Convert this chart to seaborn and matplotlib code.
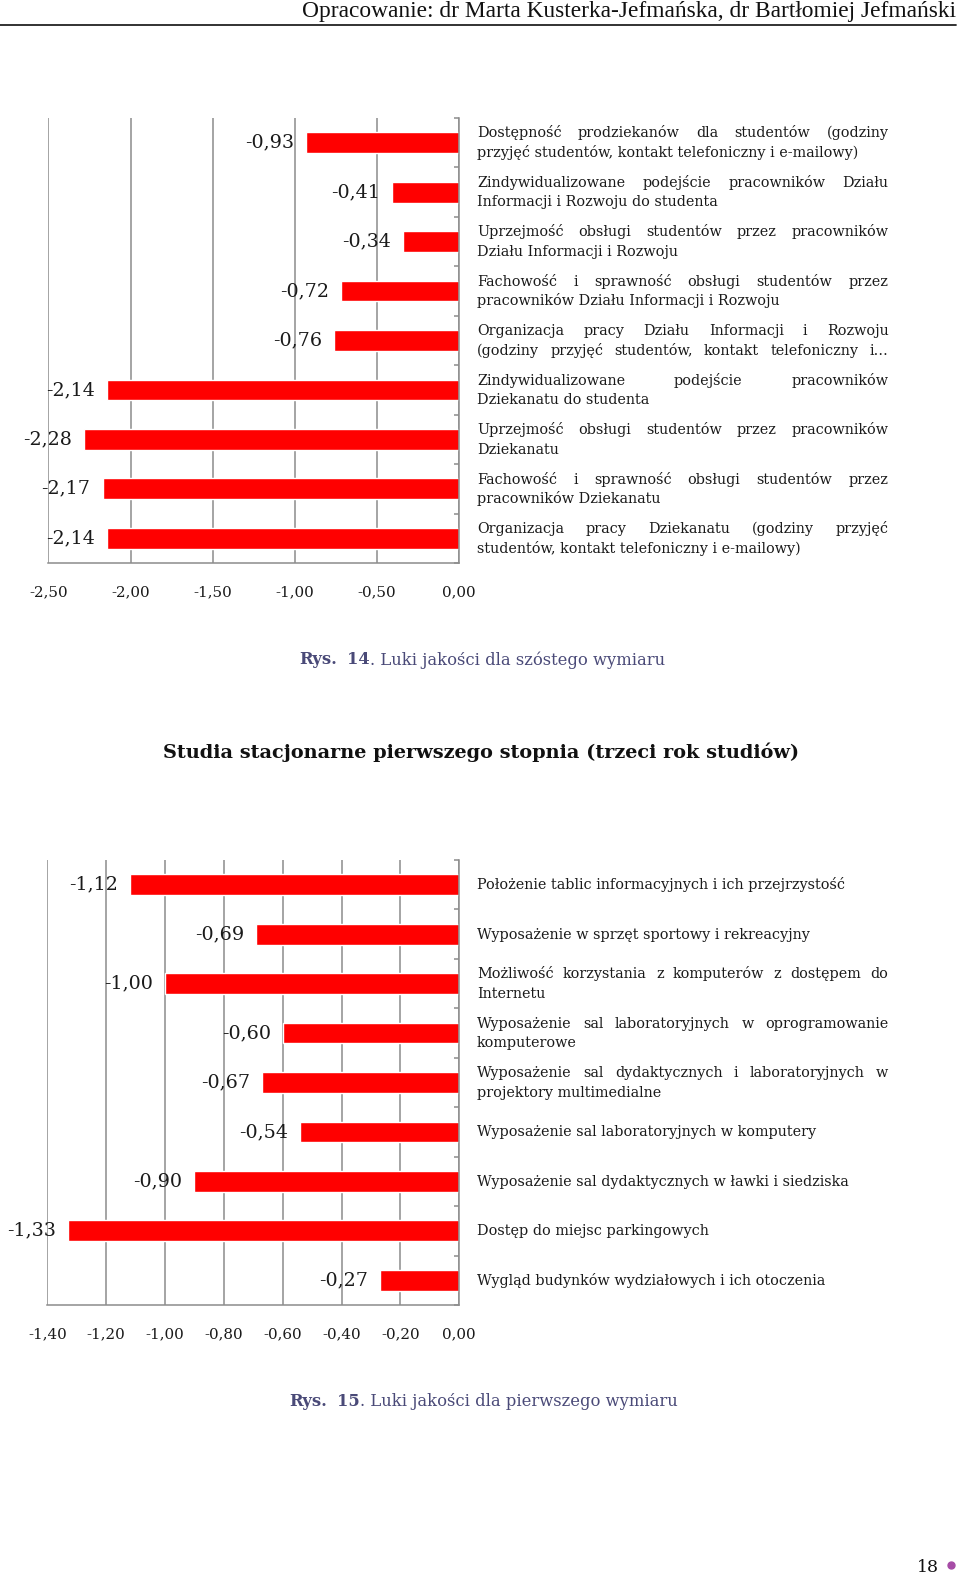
"""Luki jakości - two horizontal gap bar charts on one report page."""

import numpy as np
import pandas as pd
import matplotlib
import matplotlib.pyplot as plt
from matplotlib.lines import Line2D
import seaborn as sns

matplotlib.use("Agg")

# ── data ───────────────────────────────────────────────────────────────────
labels_14 = [
    "Dostępność prodziekanów dla studentów (godziny\nprzyjęć studentów, kontakt telefoniczny i e-mailowy)",
    "Zindywidualizowane podejście pracowników Działu\nInformacji i Rozwoju do studenta",
    "Uprzejmość obsługi studentów przez pracowników\nDziału Informacji i Rozwoju",
    "Fachowość i sprawność obsługi studentów przez\npracowników Działu Informacji i Rozwoju",
    "Organizacja pracy Działu Informacji i Rozwoju\n(godziny przyjęć studentów, kontakt telefoniczny i…",
    "Zindywidualizowane podejście pracowników\nDziekanatu do studenta",
    "Uprzejmość obsługi studentów przez pracowników\nDziekanatu",
    "Fachowość i sprawność obsługi studentów przez\npracowników Dziekanatu",
    "Organizacja pracy Dziekanatu (godziny przyjęć\nstudentów, kontakt telefoniczny i e-mailowy)",
]
values_14 = [-0.93, -0.41, -0.34, -0.72, -0.76, -2.14, -2.28, -2.17, -2.14]
ticks_14 = [-2.5, -2.0, -1.5, -1.0, -0.5, 0.0]

labels_15 = [
    "Położenie tablic informacyjnych i ich przejrzystość",
    "Wyposażenie w sprzęt sportowy i rekreacyjny",
    "Możliwość korzystania z komputerów z dostępem do\nInternetu",
    "Wyposażenie sal laboratoryjnych w oprogramowanie\nkomputerowe",
    "Wyposażenie sal dydaktycznych i laboratoryjnych w\nprojektory multimedialne",
    "Wyposażenie sal laboratoryjnych w komputery",
    "Wyposażenie sal dydaktycznych w ławki i siedziska",
    "Dostęp do miejsc parkingowych",
    "Wygląd budynków wydziałowych i ich otoczenia",
]
values_15 = [-1.12, -0.69, -1.00, -0.60, -0.67, -0.54, -0.90, -1.33, -0.27]
ticks_15 = [-1.4, -1.2, -1.0, -0.8, -0.6, -0.4, -0.2, 0.0]

# ── page geometry (pixels) ─────────────────────────────────────────────────
W, H = 960, 1578
SERIF = "DejaVu Serif"
GRID = "#8c8c8c"
BAR = "#ff0000"
CAPTION = "#4a4a78"

sns.set_style("white")
plt.rcParams["font.family"] = [SERIF, "DejaVu Sans"]

fig = plt.figure(figsize=(W / 100, H / 100), dpi=100)
renderer = fig.canvas.get_renderer()


def fx(x):
    return x / W


def fy(y):
    return 1 - y / H


def text_width(s, **kw):
    t = fig.text(0, 0, s, **kw)
    w = t.get_window_extent(renderer).width
    t.remove()
    return w


def paragraph(text, x0, x1, yc, size=10.4, gap=19.5):
    """Draw label lines; all but the last are justified (like the report)."""
    lines = text.split("\n")
    n = len(lines)
    kw = dict(fontsize=size, family=SERIF, color="#1a1a1a")
    for k, line in enumerate(lines):
        base = yc + (k - (n - 1) / 2) * gap + 4.5
        if (k < n - 1 or line.endswith("…")) and " " in line:
            words = line.split()
            widths = [text_width(w, **kw) for w in words]
            space = (x1 - x0 - sum(widths)) / (len(words) - 1)
            x = x0
            for w, ww in zip(words, widths):
                fig.text(fx(x), fy(base), w, ha="left", va="baseline", **kw)
                x += ww + space
        else:
            fig.text(fx(x0), fy(base), line, ha="left", va="baseline", **kw)


def runs(parts, x0, yc, size, color):
    """Draw consecutive text runs [(text, weight), ...] on one line."""
    x = x0
    for s, weight in parts:
        kw = dict(fontsize=size, family=SERIF, color=color, fontweight=weight)
        fig.text(fx(x), fy(yc), s, ha="left", va="center", **kw)
        x += text_width(s, **kw)


def gap_chart(labels, values, ticks, box):
    left, top, right, bottom = box
    ax = fig.add_axes([fx(left), fy(bottom), fx(right - left), (bottom - top) / H])
    df = pd.DataFrame({"kryterium": labels, "luka": values})
    sns.barplot(data=df, x="luka", y="kryterium", orient="h", color=BAR,
                saturation=1, width=0.42, ax=ax)
    n = len(labels)
    ax.set_xlim(ticks[0], 0)
    ax.set_ylim(n - 0.5, -0.5)
    ax.set_xticks(ticks)
    ax.set_xticklabels([f"{t:.2f}".replace(".", ",") for t in ticks],
                       fontsize=10.9, family=SERIF, color="#1a1a1a")
    ax.set_yticks(np.arange(n + 1) - 0.5)
    ax.set_yticklabels([])
    ax.set_xlabel("")
    ax.set_ylabel("")
    ax.xaxis.grid(True, color=GRID, lw=1.1)
    ax.yaxis.grid(False)
    ax.set_axisbelow(True)
    for side in ("left", "top"):
        ax.spines[side].set_visible(False)
    for side in ("right", "bottom"):
        ax.spines[side].set_color(GRID)
        ax.spines[side].set_linewidth(1.1)
    ax.yaxis.tick_right()
    ax.tick_params(axis="y", direction="in", length=3.5, color=GRID, width=1.1)
    ax.tick_params(axis="x", direction="out", length=4, color=GRID, width=1.1, pad=12)

    for i, v in enumerate(values):
        ax.annotate(f"{v:.2f}".replace(".", ","), (v, i), xytext=(-12, 0),
                    textcoords="offset pixels", ha="right", va="center",
                    fontsize=13.8, family=SERIF, color="#1a1a1a")

    # category labels to the right of the zero line
    step = (bottom - top) / n
    for i, lab in enumerate(labels):
        paragraph(lab, 477, 888.5, top + step * (i + 0.5))
    return ax


# ── header ─────────────────────────────────────────────────────────────────
fig.text(fx(956), fy(11), "Opracowanie: dr Marta Kusterka-Jefmańska, dr Bartłomiej Jefmański",
         ha="right", va="center", fontsize=16.8, family="Liberation Serif", color="#111111")
fig.add_artist(Line2D([0, fx(956)], [fy(24.5), fy(24.5)], color="#222222", lw=1.3))

# ── charts ─────────────────────────────────────────────────────────────────
gap_chart(labels_14, values_14, ticks_14, (48.3, 118, 459.3, 563))
runs([("Rys.", "bold"), ("  ", "normal"), ("14", "bold"),
      (". Luki jakości dla szóstego wymiaru", "normal")], 299, 660, 11.8, CAPTION)

fig.text(fx(481), fy(752), "Studia stacjonarne pierwszego stopnia (trzeci rok studiów)",
         ha="center", va="center", fontsize=13.9, fontweight="bold", family=SERIF,
         color="#111111")

gap_chart(labels_15, values_15, ticks_15, (47.3, 860, 459.3, 1305))
runs([("Rys.", "bold"), ("  ", "normal"), ("15", "bold"),
      (". Luki jakości dla pierwszego wymiaru", "normal")], 289, 1401, 11.8, CAPTION)

# ── page number ────────────────────────────────────────────────────────────
fig.text(fx(928), fy(1567), "18", ha="center", va="center", fontsize=12.5,
         family=SERIF, color="#111111")
fig.add_artist(Line2D([fx(951)], [fy(1565)], marker="o", markersize=5,
                      color="#a64ca6", lw=0))

fig.savefig("out.png", dpi=100)
